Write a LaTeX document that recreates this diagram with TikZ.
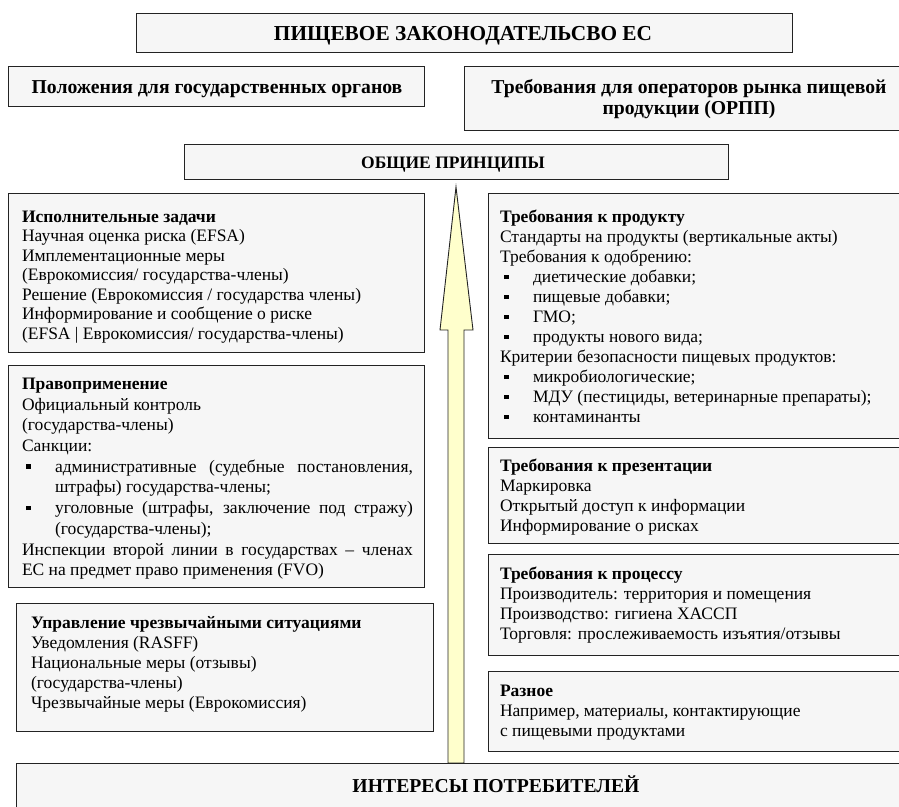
\documentclass[tikz,border=0pt]{standalone}
\usepackage{fontspec}
\setmainfont{Liberation Serif}
\definecolor{panelfill}{RGB}{246,246,246}
\definecolor{arrowfill}{RGB}{255,255,204}
\definecolor{edgecol}{RGB}{35,35,35}
\setlength{\parindent}{0pt}
\setlength{\parskip}{0pt}
\hyphenpenalty=10000
\exhyphenpenalty=10000
\newcommand{\bodysize}{\fontsize{17.5}{20}\selectfont}
% bold first line of a panel
\newcommand{\hd}[1]{\textbf{#1}\par}
% bullet item with hanging indent
\newcommand{\bul}{\hangindent=33pt\hangafter=1\noindent\makebox[33pt][l]{\hspace{4pt}\rule[3.5pt]{4.5pt}{4.5pt}}}
% rectangle panel given by its corners
\newcommand{\panel}[5]{\node[panel, minimum width={#4-#2}, minimum height={#5-#3}] (#1) at (#2,#3) {};}
\begin{document}
\begin{tikzpicture}[x=1pt,y=-1pt,
  panel/.style={draw=edgecol, line width=0.9pt, fill=panelfill, inner sep=0pt, outer sep=0pt, anchor=north west},
  textblock/.style={anchor=north west, inner sep=0pt, outer sep=0pt, text width=#1, align=justify, font=\bodysize},
  headtext/.style={inner sep=0pt, font=\fontsize{19.7}{21}\selectfont\bfseries, align=center}
]
\useasboundingbox (0,0) rectangle (899,806);
\clip (0,0) rectangle (899,806);

% top row of headings
\panel{title}{136}{13}{792}{52}
\node[headtext, font=\fontsize{21.3}{24}\selectfont\bfseries] (titletext) at (463,36) {ПИЩЕВОЕ ЗАКОНОДАТЕЛЬСВО ЕС};

\panel{gov}{8}{66}{424}{106}
\node[headtext] (govtext) at (217,89) {Положения для государственных органов};

\panel{op}{464}{66}{920}{130}
\node[headtext] (optext) at (689,99) {Требования для операторов рынка пищевой\\продукции (ОРПП)};

\panel{gen}{184}{144}{728}{179}
\node[headtext, font=\fontsize{17.5}{21}\selectfont\bfseries] (gentext) at (453,165) {ОБЩИЕ ПРИНЦИПЫ};

% upward arrow from the consumers' interests to the general principles
\draw[edgecol, line width=0.9pt, fill=arrowfill]
  (456,187) -- (473,330) -- (464,330) -- (464,763) -- (448,763) -- (448,330) -- (440,330) -- cycle;

% left column
\panel{exec}{8}{193}{424}{352}
\node[textblock=391pt, font=\fontsize{17.5}{19.5}\selectfont] (exectext) at (22,211) {%
\hd{Исполнительные задачи}
Научная оценка риска (EFSA)\par
Имплементационные меры\par
(Еврокомиссия/ государства-члены)\par
Решение (Еврокомиссия / государства члены)\par
Информирование и сообщение о риске\par
(EFSA | Еврокомиссия/ государства-члены)\par};

\panel{enf}{8}{365}{424}{587}
\node[textblock=391pt, font=\fontsize{17.5}{20.7}\selectfont] (enftext) at (22,378) {%
\hd{Правоприменение}
Официальный контроль\par
(государства-члены)\par
Санкции:\par
\bul административные (судебные постановления,\linebreak штрафы) государства-члены;\par
\bul уголовные (штрафы, заключение под стражу)\linebreak (государства-члены);\par
Инспекции второй линии в государствах – членах\linebreak ЕС на предмет право применения (FVO)\par};

\panel{emerg}{16}{603}{433}{731}
\node[textblock=390pt] (emergtext) at (31,616) {%
\hd{Управление чрезвычайными ситуациями}
Уведомления (RASFF)\par
Национальные меры (отзывы)\par
(государства-члены)\par
Чрезвычайные меры (Еврокомиссия)\par};

% right column
\panel{prod}{488}{193}{920}{438}
\node[textblock=390pt] (prodtext) at (500,210) {%
\hd{Требования к продукту}
Стандарты на продукты (вертикальные акты)\par
Требования к одобрению:\par
\bul диетические добавки;\par
\bul пищевые добавки;\par
\bul ГМО;\par
\bul продукты нового вида;\par
Критерии безопасности пищевых продуктов:\par
\bul микробиологические;\par
\bul МДУ (пестициды, ветеринарные препараты);\par
\bul контаминанты\par};

\panel{pres}{488}{447}{920}{543}
\node[textblock=390pt] (prestext) at (500,459) {%
\hd{Требования к презентации}
Маркировка\par
Открытый доступ к информации\par
Информирование о рисках\par};

\panel{proc}{488}{554}{920}{655}
\node[textblock=390pt] (proctext) at (500,567) {%
\hd{Требования к процессу}
Производитель: территория и помещения\par
Производство: гигиена ХАССП\par
Торговля: прослеживаемость изъятия/отзывы\par};

\panel{misc}{488}{671}{920}{751}
\node[textblock=390pt] (misctext) at (500,685) {%
\hd{Разное}
Например, материалы, контактирующие\par
с пищевыми продуктами\par};

% bottom band
\panel{cons}{16}{763}{980}{830}
\node[headtext] (constext) at (496,784) {ИНТЕРЕСЫ ПОТРЕБИТЕЛЕЙ};
\end{tikzpicture}
\end{document}
